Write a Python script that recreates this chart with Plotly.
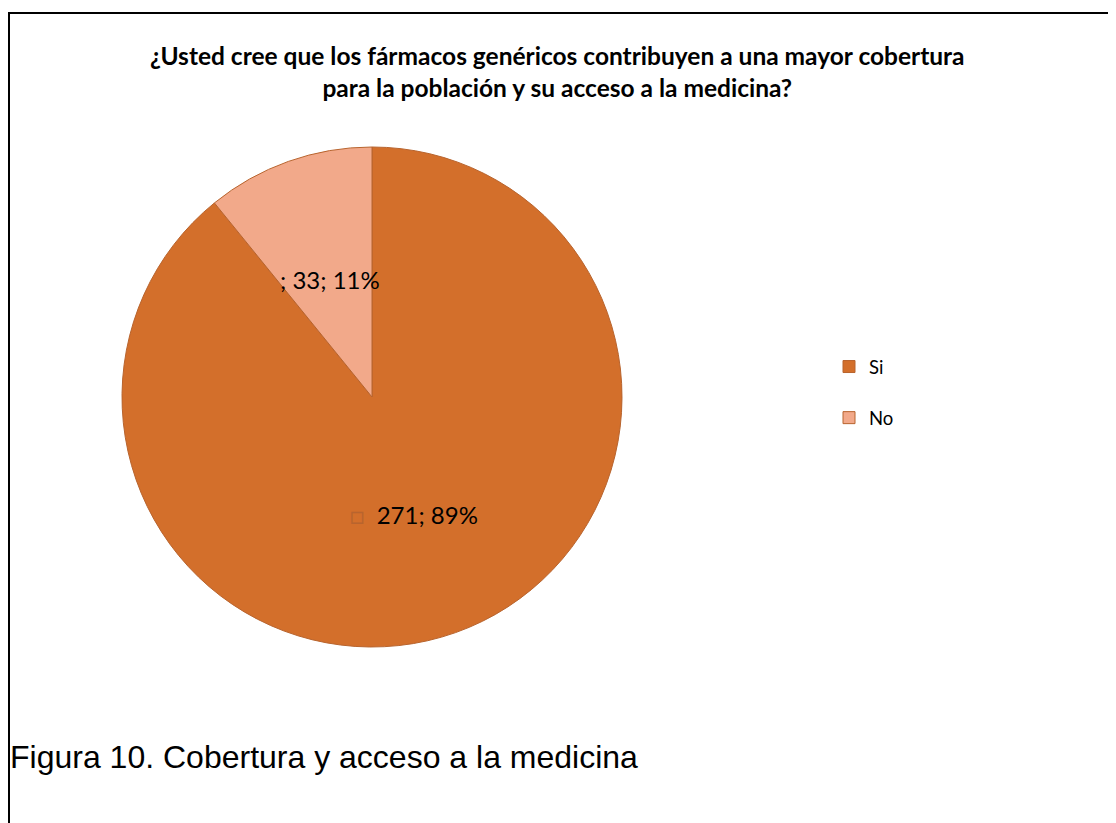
import math
import plotly.graph_objects as go

labels = ["Si", "No"]
values = [271, 33]
percents = ["89%", "11%"]
label_prefix = ["<span style='color:#B8642E'>□</span>  ", "; "]
colors = ["#D36F2B", "#F2A98A"]

title_lines = [
    "¿Usted cree que los fármacos genéricos contribuyen a una mayor cobertura",
    "para la población y su acceso a la medicina?",
]
caption_text = "Figura 10. Cobertura y acceso a la medicina"

W, H = 1108, 815  # page body has an 8px margin


def xp(px):
    return px / W


def yp(py):
    return 1 - py / H


# pie geometry (figure pixels)
CX, CY, R = 364, 389, 250

fig = go.Figure()
fig.add_trace(go.Pie(
    labels=[l + "<br> " for l in labels],
    values=values,
    textinfo="none",
    marker=dict(colors=colors, line=dict(color="#B8642E", width=1)),
    sort=False,
    direction="clockwise",
    rotation=0,
    hoverinfo="value+percent",
    domain=dict(x=[xp(CX - R), xp(CX + R)], y=[yp(CY + R), yp(CY - R)]),
))

# data labels placed along each slice's bisector at half radius
annotations = []
total = sum(values)
cum = 0
for lab, v, pct, pre in zip(labels, values, percents, label_prefix):
    mid = (cum + v / 2) / total * 2 * math.pi
    cum += v
    px = CX + 0.5 * R * math.sin(mid)
    py = CY - 0.5 * R * math.cos(mid)
    annotations.append(dict(
        text=f"{pre}{v}; {pct}", x=xp(px), y=yp(py), xref="paper", yref="paper",
        xanchor="center", yanchor="middle", showarrow=False,
        font=dict(family="Lato", size=24, color="black")))

annotations += [
    dict(text="<br>".join(f"<b>{t}</b>" for t in title_lines),
         x=xp(549.5), y=yp(64), xref="paper", yref="paper",
         xanchor="center", yanchor="middle", showarrow=False,
         font=dict(family="Lato", size=24.5, color="black"), align="center"),
    dict(text=caption_text, x=xp(0), y=yp(749), xref="paper", yref="paper",
         xanchor="left", yanchor="middle", showarrow=False,
         font=dict(family="Liberation Sans", size=32, color="black")),
]

fig.update_layout(
    width=W, height=H,
    margin=dict(l=0, r=0, t=0, b=0),
    paper_bgcolor="white",
    plot_bgcolor="white",
    showlegend=True,
    legend=dict(
        x=xp(821), y=yp(340), xanchor="left", yanchor="top",
        font=dict(family="Lato", size=18.5, color="black"),
        valign="top",
    ),
    annotations=annotations,
    shapes=[
        dict(type="line", xref="paper", yref="paper", x0=xp(1), x1=xp(1), y0=0, y1=yp(4),
             line=dict(color="black", width=2)),
        dict(type="line", xref="paper", yref="paper", x0=0, x1=1, y0=yp(5), y1=yp(5),
             line=dict(color="black", width=2)),
    ],
)

fig.write_html("out.html", config={"displayModeBar": False})
